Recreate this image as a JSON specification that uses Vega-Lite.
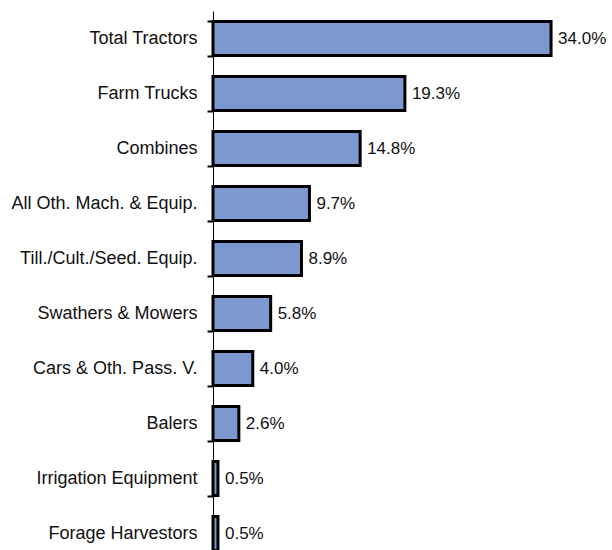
{
  "$schema": "https://vega.github.io/schema/vega-lite/v6.json",
  "width": 348,
  "height": 550,
  "autosize": "none",
  "padding": {"left": 213, "top": 11, "right": 51, "bottom": 0},
  "background": "white",
  "config": {"view": {"stroke": null}, "axisBand": {"tickBand": "extent", "ticks": true}},
  "data": {
    "values": [
      {"category": "Total Tractors", "share": 34.0, "label": "34.0%"},
      {"category": "Farm Trucks", "share": 19.3, "label": "19.3%"},
      {"category": "Combines", "share": 14.8, "label": "14.8%"},
      {"category": "All Oth. Mach. & Equip.", "share": 9.7, "label": "9.7%"},
      {"category": "Till./Cult./Seed. Equip.", "share": 8.9, "label": "8.9%"},
      {"category": "Swathers & Mowers", "share": 5.8, "label": "5.8%"},
      {"category": "Cars & Oth. Pass. V.", "share": 4.0, "label": "4.0%"},
      {"category": "Balers", "share": 2.6, "label": "2.6%"},
      {"category": "Irrigation Equipment", "share": 0.5, "label": "0.5%"},
      {"category": "Forage Harvestors", "share": 0.5, "label": "0.5%"}
    ]
  },
  "encoding": {
    "y": {
      "field": "category",
      "type": "nominal",
      "sort": null,
      "scale": {"paddingInner": 0.38, "paddingOuter": 0.19},
      "axis": {
        "title": null,
        "ticks": true,
        "tickBand": "extent",
        "tickSize": 6,
        "tickWidth": 2,
        "tickColor": "#000",
        "tickOpacity": 1,
        "domainColor": "#000",
        "domainWidth": 1,
        "labelFont": "Liberation Sans",
        "labelFontWeight": "normal",
        "labelFontSize": 18,
        "labelColor": "#111",
        "labelPadding": 10,
        "labelLimit": 300
      }
    },
    "x": {
      "field": "share",
      "type": "quantitative",
      "scale": {"domain": [0, 35]},
      "axis": null
    }
  },
  "layer": [
    {
      "mark": {"type": "bar", "color": "#7d98cf", "stroke": "#000", "strokeWidth": 3}
    },
    {
      "mark": {"type": "text", "align": "left", "baseline": "middle", "dx": 7, "font": "Liberation Sans", "fontWeight": "normal", "fontSize": 17, "color": "#111"},
      "encoding": {"text": {"field": "label"}}
    }
  ]
}
